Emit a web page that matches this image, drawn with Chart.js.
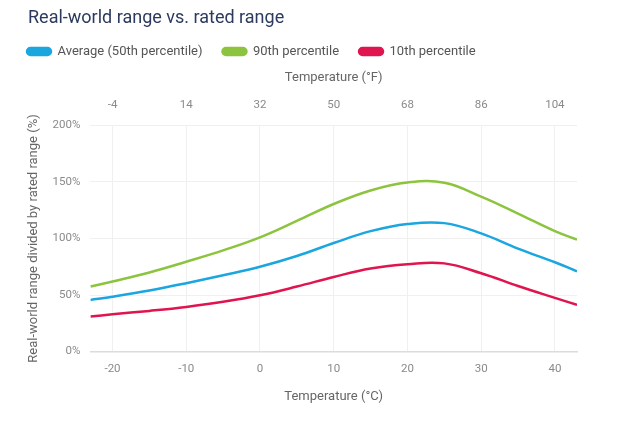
<!DOCTYPE html>
<html>
<head>
<meta charset="utf-8">
<script src="https://cdn.jsdelivr.net/npm/chart.js@4"></script>
<style>
html,body{margin:0;padding:0;background:#fff;}
#wrap{width:619px;height:425px;position:relative;}
</style>
</head>
<body>
<div id="wrap"><canvas id="c" width="619" height="425"></canvas></div>
<script>
const tempC = [-23, -20, -15, -10, -5, 0, 5, 10, 15, 20, 25, 30, 35, 40, 43];
const avg50 = [45.7, 48.5, 54, 60.5, 67.5, 75, 84.5, 96, 106.5, 112.8, 113.6, 104.5, 91, 79, 71];
const p90 = [57.5, 62, 70, 79.5, 89.5, 101, 115.5, 130.5, 142.5, 149.5, 149.3, 137, 122, 106.5, 99];
const p10 = [31, 33, 36, 39.5, 44, 49.8, 57.5, 66, 73.5, 77.3, 78, 69.3, 58, 47.5, 41.3];
const cTicks = [-20, -10, 0, 10, 20, 30, 40];
const fTicks = [-4, 14, 32, 50, 68, 86, 104];
const yTicks = [0, 50, 100, 150, 200];
const seriesNames = ['Average (50th percentile)', '90th percentile', '10th percentile'];
const chartTitle = 'Real-world range vs. rated range';

const xMin = -23, xMax = 43;
const toF = c => c * 1.8 + 32;
const pts = arr => tempC.map((t, i) => ({x: t, y: arr[i]}));
const FONT = 'Roboto, "Noto Sans", sans-serif';

const titlePlugin = {
  id: 'leftTitle',
  afterDraw(chart) {
    const ctx = chart.ctx;
    ctx.save();
    ctx.font = '18px ' + FONT;
    ctx.fillStyle = '#2b3a5e';
    ctx.textBaseline = 'middle';
    ctx.textAlign = 'left';
    ctx.fillText(chartTitle, 28, 18);
    ctx.restore();
  }
};

new Chart(document.getElementById('c'), {
  type: 'line',
  data: {
    datasets: [
      {label: seriesNames[0], data: pts(avg50), borderColor: '#1ba6e0', backgroundColor: '#1ba6e0'},
      {label: seriesNames[1], data: pts(p90), borderColor: '#8cc43f', backgroundColor: '#8cc43f'},
      {label: seriesNames[2], data: pts(p10), borderColor: '#e0144f', backgroundColor: '#e0144f'}
    ]
  },
  plugins: [titlePlugin],
  options: {
    responsive: false,
    animation: false,
    devicePixelRatio: 1,
    layout: {padding: {left: 7, right: 42, top: 25, bottom: 20}},
    elements: {
      point: {radius: 0, hoverRadius: 0},
      line: {borderWidth: 2.5, tension: 0.4, fill: false}
    },
    plugins: {
      title: {display: false},
      legend: {
        display: true, align: 'start', maxHeight: 43,
        labels: {
          boxWidth: 24, boxHeight: 7, useBorderRadius: true, borderRadius: 3.5,
          color: '#555', font: {family: FONT, size: 13}, padding: 20
        }
      },
      tooltip: {enabled: false}
    },
    scales: {
      x: {
        type: 'linear', position: 'bottom', min: xMin, max: xMax,
        afterBuildTicks: s => { s.ticks = cTicks.map(v => ({value: v})); },
        grid: {color: '#f0f0f0', drawTicks: false},
        border: {color: '#dcdcdc', width: 1.5},
        ticks: {color: '#8a8a8a', font: {family: FONT, size: 11.5}, padding: 11},
        title: {display: true, text: 'Temperature (°C)', color: '#666', font: {family: FONT, size: 13}, padding: {top: 2, bottom: 0}}
      },
      xF: {
        type: 'linear', position: 'top', min: toF(xMin), max: toF(xMax),
        afterBuildTicks: s => { s.ticks = fTicks.map(v => ({value: v})); },
        grid: {display: false, drawTicks: false},
        border: {display: false},
        ticks: {color: '#8a8a8a', font: {family: FONT, size: 11.5}, padding: 13},
        title: {display: true, text: 'Temperature (°F)', color: '#666', font: {family: FONT, size: 13}, padding: {top: 2, bottom: 0}}
      },
      y: {
        min: 0, max: 200,
        afterBuildTicks: s => { s.ticks = yTicks.map(v => ({value: v})); },
        grid: {color: '#f0f0f0', drawTicks: false},
        border: {display: false},
        ticks: {color: '#8a8a8a', font: {family: FONT, size: 11.5}, padding: 10, callback: v => v + '%'},
        title: {display: true, text: 'Real-world range divided by rated range (%)', color: '#666', font: {family: FONT, size: 13}, padding: {top: 19, bottom: 1}}
      }
    }
  }
});
</script>
</body>
</html>
